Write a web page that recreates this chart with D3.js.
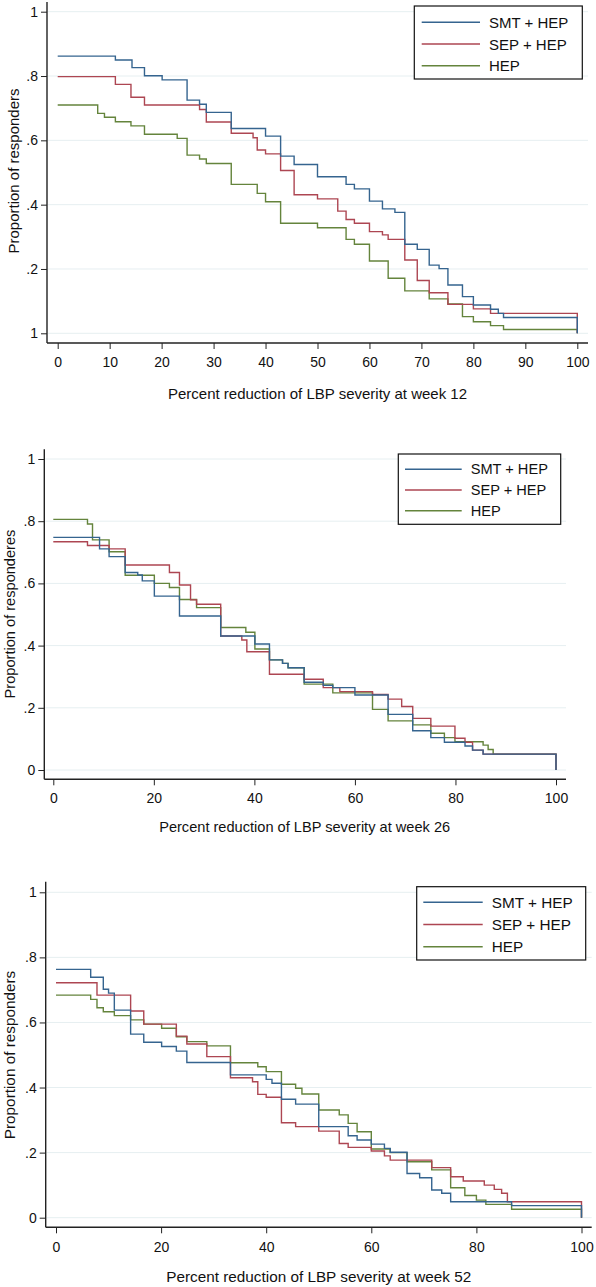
<!DOCTYPE html>
<html>
<head>
<meta charset="utf-8">
<script src="https://cdn.jsdelivr.net/npm/d3@7"></script>
<style>
  html, body { margin: 0; padding: 0; background: #fff; }
  svg { display: block; font-family: "Liberation Sans", Arial, Helvetica, sans-serif; }
</style>
</head>
<body>
<svg id="chart" width="596" height="1287"></svg>
<script>
// ---------------- DATA ----------------
const seriesNames = ["SMT + HEP", "SEP + HEP", "HEP"];

// Week 12 (step points: x = percent reduction where level starts, y = proportion)
const w12_smt_x = [0, 11.1, 14.3, 16.7, 20.1, 24.9, 27.3, 28.6, 33.4, 40, 42.9, 45.5, 50, 55.5, 57.1, 60, 62.5, 64.9, 66.8, 69.2, 71.5, 73.4, 75.1, 77.9, 80, 83.3, 84.8, 85.8, 100];
const w12_smt_y = [0.862, 0.850, 0.826, 0.801, 0.788, 0.725, 0.712, 0.687, 0.637, 0.613, 0.551, 0.525, 0.487, 0.463, 0.449, 0.411, 0.387, 0.376, 0.277, 0.261, 0.212, 0.201, 0.150, 0.114, 0.088, 0.075, 0.062, 0.049, 0];
const w12_sep_x = [0, 11.1, 14.1, 16.7, 27.3, 28.6, 33.4, 37.6, 38.4, 40, 42.9, 45.5, 50, 53.9, 55.5, 57.1, 60, 62.5, 63.6, 66.8, 69.2, 71.5, 75.1, 80, 83.3, 100];
const w12_sep_y = [0.798, 0.774, 0.734, 0.710, 0.696, 0.657, 0.622, 0.608, 0.570, 0.558, 0.506, 0.431, 0.418, 0.380, 0.354, 0.342, 0.316, 0.306, 0.292, 0.228, 0.164, 0.126, 0.090, 0.076, 0.062, 0];
const w12_hep_x = [0, 7.7, 9.0, 11.1, 14.1, 16.7, 23.0, 24.9, 27.3, 28.6, 33.4, 38.4, 40, 42.9, 50, 55.5, 57.1, 60, 63.6, 66.8, 71.5, 75.1, 77.9, 80, 83.3, 85.8, 100];
const w12_hep_y = [0.710, 0.684, 0.672, 0.658, 0.645, 0.619, 0.606, 0.554, 0.542, 0.528, 0.463, 0.435, 0.409, 0.342, 0.328, 0.292, 0.277, 0.225, 0.171, 0.132, 0.107, 0.091, 0.052, 0.036, 0.024, 0.012, 0];

// Week 26
const w26_smt_x = [0, 9.2, 11.1, 14.3, 16.8, 17.7, 20.1, 25.1, 33.3, 40.1, 43.0, 45.6, 46.7, 49.9, 53.7, 55.6, 60.0, 66.6, 71.5, 75.1, 77.8, 81.9, 83.4, 85.5, 100];
const w26_smt_y = [0.748, 0.711, 0.686, 0.635, 0.627, 0.608, 0.559, 0.495, 0.431, 0.405, 0.354, 0.343, 0.329, 0.282, 0.272, 0.265, 0.241, 0.179, 0.126, 0.104, 0.089, 0.077, 0.064, 0.051, 0];
const w26_sep_x = [0, 6.8, 11.1, 14.3, 23.1, 25.1, 27.3, 28.5, 33.3, 37.5, 38.5, 43.0, 49.9, 53.7, 57.0, 63.5, 66.6, 69.3, 71.5, 75.1, 79.9, 81.9, 83.4, 85.5, 100];
const w26_sep_y = [0.734, 0.722, 0.711, 0.659, 0.635, 0.595, 0.547, 0.533, 0.431, 0.418, 0.380, 0.308, 0.292, 0.265, 0.252, 0.243, 0.228, 0.204, 0.166, 0.141, 0.102, 0.089, 0.064, 0.051, 0];
const w26_hep_x = [0, 6.8, 7.8, 11.1, 14.3, 20.1, 23.1, 25.1, 28.5, 33.3, 38.3, 40.1, 43.0, 45.6, 46.7, 49.9, 55.6, 63.5, 66.6, 71.5, 75.1, 77.8, 79.9, 85.5, 86.5, 87.5, 100];
const w26_hep_y = [0.806, 0.791, 0.740, 0.702, 0.626, 0.600, 0.587, 0.548, 0.522, 0.458, 0.443, 0.389, 0.354, 0.343, 0.329, 0.276, 0.248, 0.195, 0.158, 0.145, 0.118, 0.104, 0.091, 0.080, 0.066, 0.051, 0];

// Week 52
const w52_smt_x = [0, 6.6, 9.0, 10.0, 11.1, 14.2, 16.7, 20.1, 22.9, 24.9, 33.2, 40, 41.1, 42.9, 45.6, 50, 55.6, 57.3, 60, 62.5, 63.6, 66.8, 69.2, 71.5, 73.4, 75.1, 86.7, 100];
const w52_smt_y = [0.763, 0.739, 0.702, 0.690, 0.638, 0.564, 0.539, 0.526, 0.512, 0.477, 0.439, 0.425, 0.413, 0.364, 0.349, 0.280, 0.252, 0.239, 0.226, 0.213, 0.201, 0.136, 0.123, 0.085, 0.075, 0.049, 0.037, 0];
const w52_sep_x = [0, 7.8, 14.2, 16.7, 22.9, 24.9, 28.7, 33.2, 37.4, 38.4, 40, 42.9, 45.6, 50, 53.9, 55.6, 60, 62.5, 63.6, 71.5, 75.1, 77.5, 81.5, 83.4, 84.8, 85.9, 100];
const w52_sep_y = [0.722, 0.684, 0.635, 0.595, 0.558, 0.534, 0.495, 0.430, 0.418, 0.379, 0.370, 0.292, 0.280, 0.266, 0.228, 0.216, 0.205, 0.190, 0.177, 0.154, 0.126, 0.113, 0.100, 0.087, 0.075, 0.049, 0];
const w52_hep_x = [0, 6.6, 7.8, 9.0, 11.1, 14.2, 16.7, 20.1, 22.9, 24.9, 28.7, 33.2, 38.4, 40, 42.9, 45.6, 46.8, 50, 53.9, 55.6, 57.3, 60, 63.6, 66.8, 71.5, 75.1, 77.8, 80, 81.8, 86.7, 100];
const w52_hep_y = [0.684, 0.671, 0.645, 0.633, 0.621, 0.608, 0.595, 0.582, 0.556, 0.541, 0.528, 0.476, 0.464, 0.449, 0.410, 0.398, 0.380, 0.331, 0.316, 0.290, 0.264, 0.211, 0.200, 0.172, 0.147, 0.092, 0.068, 0.054, 0.041, 0.026, 0];

// Tick labels
const yTickValues = [0, 0.2, 0.4, 0.6, 0.8, 1];
const yTickLabels12 = ["1", ".2", ".4", ".6", ".8", "1"];
const yTickLabels = ["0", ".2", ".4", ".6", ".8", "1"];
const xTicks12 = [0, 10, 20, 30, 40, 50, 60, 70, 80, 90, 100];
const xTicks = [0, 20, 40, 60, 80, 100];
const xTitles = ["Percent reduction of LBP severity at week 12", "Percent reduction of LBP severity at week 26", "Percent reduction of LBP severity at week 52"];
const yTitles = ["Proportion of responders", "Proportion of responderes", "Proportion of responders"];

// ---------------- STYLE / LAYOUT ----------------
const colors = ["#35648f", "#ad4652", "#64843c"];
const panels = [
  { x0: 57.7, x1: 577.3, y0: 333.3, y1: 11.7, axX: 47, axY: 343, yTop: 2, xRight: 588,
    tickLabY: 362, titleY: 393.5, ytX: 13, ytY: 171, fs: 15,
    leg: { x: 414.3, y: 6, w: 168, h: 73, row0: 22.3, gap: 21.7, l0: 421.7, l1: 480, tx: 489 },
    ticks: xTicks12, ylabels: yTickLabels12,
    sx: [w12_smt_x, w12_sep_x, w12_hep_x], sy: [w12_smt_y, w12_sep_y, w12_hep_y] },
  { x0: 53.3, x1: 556, y0: 770, y1: 459, axX: 44.3, axY: 779.3, yTop: 449.3, xRight: 566,
    tickLabY: 798, titleY: 826.7, ytX: 9.5, ytY: 614, fs: 14.6,
    leg: { x: 398.3, y: 454, w: 162.4, h: 70.3, row0: 469.3, gap: 20.7, l0: 405, l1: 461.7, tx: 470.7 },
    ticks: xTicks, ylabels: yTickLabels,
    sx: [w26_smt_x, w26_sep_x, w26_hep_x], sy: [w26_smt_y, w26_sep_y, w26_hep_y] },
  { x0: 56, x1: 581.5, y0: 1217.7, y1: 892.3, axX: 45.7, axY: 1227.3, yTop: 881.7, xRight: 591.7,
    tickLabY: 1247.3, titleY: 1276.7, ytX: 9.5, ytY: 1055, fs: 15.3,
    leg: { x: 416.7, y: 886.7, w: 169, h: 73.3, row0: 902.3, gap: 22.2, l0: 423.3, l1: 482.7, tx: 491.7 },
    ticks: xTicks, ylabels: yTickLabels,
    sx: [w52_smt_x, w52_sep_x, w52_hep_x], sy: [w52_smt_y, w52_sep_y, w52_hep_y] }
];

const svg = d3.select("#chart");

panels.forEach((p, pi) => {
  const g = svg.append("g");
  const x = d3.scaleLinear().domain([0, 100]).range([p.x0, p.x1]);
  const y = d3.scaleLinear().domain([0, 1]).range([p.y0, p.y1]);

  // gridlines
  g.append("g").selectAll("line").data(yTickValues).join("line")
    .attr("x1", p.axX + 1).attr("x2", p.xRight)
    .attr("y1", d => y(d)).attr("y2", d => y(d))
    .attr("stroke", "#e6eff1").attr("stroke-width", 1);

  // y axis
  const yAxis = d3.axisLeft(y).tickValues(yTickValues)
    .tickFormat((d, i) => p.ylabels[i]).tickSize(6).tickPadding(3);
  const ya = g.append("g").attr("transform", `translate(${p.axX},0)`).call(yAxis);
  ya.select(".domain").remove();
  ya.selectAll(".tick line").attr("stroke", "#222").attr("stroke-width", 1);
  ya.selectAll(".tick text").attr("font-size", 14).attr("fill", "#111")
    .attr("font-family", "'Liberation Sans', Arial, sans-serif");
  g.append("line").attr("x1", p.axX).attr("x2", p.axX).attr("y1", p.yTop).attr("y2", p.axY)
    .attr("stroke", "#222").attr("stroke-width", 1.4);

  // x axis
  const xAxis = d3.axisBottom(x).tickValues(p.ticks).tickFormat(d3.format("d")).tickSize(6).tickPadding(4);
  const xa = g.append("g").attr("transform", `translate(0,${p.axY})`).call(xAxis);
  xa.select(".domain").remove();
  xa.selectAll(".tick line").attr("stroke", "#222").attr("stroke-width", 1);
  xa.selectAll(".tick text").attr("font-size", 14).attr("fill", "#111")
    .attr("font-family", "'Liberation Sans', Arial, sans-serif")
    .attr("dy", null)
    .attr("dominant-baseline", "central")
    .attr("y", p.tickLabY - p.axY);
  g.append("line").attr("x1", p.axX).attr("x2", p.xRight).attr("y1", p.axY).attr("y2", p.axY)
    .attr("stroke", "#222").attr("stroke-width", 1.4);

  // titles
  g.append("text").attr("x", (p.x0 + p.x1) / 2).attr("y", p.titleY)
    .attr("text-anchor", "middle").attr("dominant-baseline", "central")
    .attr("font-size", p.fs).attr("fill", "#111").text(xTitles[pi]);
  g.append("text").attr("transform", `translate(${p.ytX},${p.ytY}) rotate(-90)`)
    .attr("text-anchor", "middle").attr("dominant-baseline", "central")
    .attr("font-size", p.fs).attr("fill", "#111").text(yTitles[pi]);

  // step lines
  const line = d3.line().x(d => x(d[0])).y(d => y(d[1])).curve(d3.curveStepAfter);
  [2, 1, 0].forEach(si => {
    const pts = p.sx[si].map((v, i) => [v, p.sy[si][i]]);
    g.append("path").datum(pts).attr("d", line)
      .attr("fill", "none").attr("stroke", colors[si]).attr("stroke-width", 1.4);
  });

  // legend
  const L = p.leg;
  g.append("rect").attr("x", L.x).attr("y", L.y).attr("width", L.w).attr("height", L.h)
    .attr("fill", "#fff").attr("stroke", "#111").attr("stroke-width", 1.2);
  seriesNames.forEach((name, si) => {
    const ry = L.row0 + si * L.gap;
    g.append("line").attr("x1", L.l0).attr("x2", L.l1).attr("y1", ry).attr("y2", ry)
      .attr("stroke", colors[si]).attr("stroke-width", 1.4);
    g.append("text").attr("x", L.tx).attr("y", ry).attr("dominant-baseline", "central")
      .attr("font-size", p.fs).attr("fill", "#111").text(name);
  });
});
</script>
</body>
</html>
